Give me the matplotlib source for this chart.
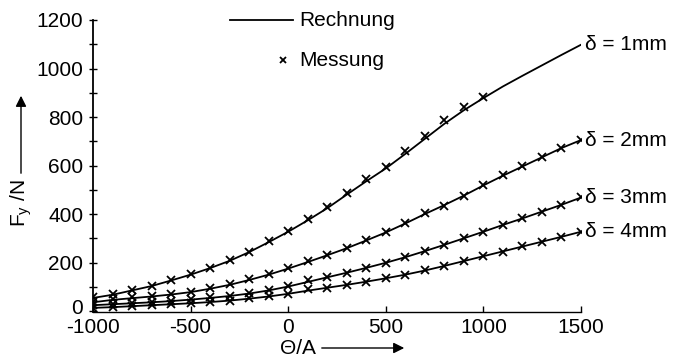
import numpy as np
import matplotlib
matplotlib.use("Agg")
import matplotlib.pyplot as plt
import matplotlib.transforms as mtransforms

plt.rcParams['font.family'] = ['Liberation Sans', 'DejaVu Sans']
plt.rcParams['mathtext.fontset'] = 'custom'
plt.rcParams['mathtext.rm'] = 'Liberation Sans'
plt.rcParams['mathtext.it'] = 'Liberation Sans'
plt.rcParams['axes.unicode_minus'] = False

# Durchflutung (A), Messpunkte alle 100 A
theta = [-1000, -900, -800, -700, -600, -500, -400, -300, -200, -100, 0,
         100, 200, 300, 400, 500, 600, 700, 800, 900, 1000,
         1100, 1200, 1300, 1400, 1500]

# Messung (N)
mess_1mm = [56, 69, 88, 105, 128, 152, 179, 210, 245, 287, 330,
            379, 428, 487, 544, 594, 660, 722, 788, 841, 882]
mess_2mm = [38, 50, 56, 62, 70, 78, 94, 110, 131, 152, 176,
            206, 231, 258, 293, 324, 361, 403, 435, 476, 520,
            561, 598, 634, 674, 705]
mess_3mm = [25, 29, 33, 37, 42, 48, 56, 62, 73, 86, 102,
            126, 141, 158, 179, 199, 221, 249, 273, 302, 327,
            355, 382, 410, 437, 469]
mess_4mm = [14, 17, 21, 25, 29, 33, 38, 43, 52, 60, 72,
            89, 97, 107, 121, 135, 148, 169, 187, 206, 227,
            245, 267, 286, 306, 327]

# Rechnung (N)
calc_1mm = [54, 67, 85, 103, 126, 150, 177, 207, 243, 284, 327,
            374, 424, 480, 535, 588, 648, 710, 772, 828, 878,
            926, 970, 1013, 1056, 1098]
calc_2mm = [36, 46, 53, 60, 68, 78, 92, 108, 128, 150, 175,
            202, 230, 259, 291, 324, 361, 400, 437, 476, 518,
            558, 596, 634, 672, 705]
calc_3mm = [24, 28, 32, 36, 41, 47, 54, 62, 72, 85, 101,
            120, 139, 158, 178, 199, 222, 247, 273, 300, 327,
            355, 382, 410, 438, 468]
calc_4mm = [13, 16, 20, 24, 28, 32, 37, 43, 51, 60, 71,
            84, 96, 108, 121, 135, 150, 167, 186, 206, 226,
            246, 266, 286, 306, 327]

labels = ['δ = 1mm', 'δ = 2mm', 'δ = 3mm', 'δ = 4mm']

fig = plt.figure(figsize=(6.74, 3.61), dpi=100)
ax = fig.add_axes([93 / 674, 1 - 312 / 361, 488 / 674, 292 / 361])

for calc, mess, lab in zip([calc_1mm, calc_2mm, calc_3mm, calc_4mm],
                           [mess_1mm, mess_2mm, mess_3mm, mess_4mm], labels):
    ax.plot(theta, calc, color='black', lw=1.3)
    ax.plot(theta[:len(mess)], mess, ls='none', marker='x', color='black',
            ms=5.5, mew=1.3)
    ax.annotate(lab, xy=(theta[-1], calc[-1]), xytext=(3, 0),
                textcoords='offset points', va='center', ha='left',
                fontsize=15, annotation_clip=False)

ax.set_xlim(-1000, 1500)
ax.set_ylim(-4, 1200)
ax.spines['top'].set_visible(False)
ax.spines['right'].set_visible(False)
ax.spines['left'].set_linewidth(1.3)
ax.spines['bottom'].set_linewidth(1.0)

ax.set_xticks([-1000, -500, 0, 500, 1000, 1500])
ax.set_yticks(range(0, 1201, 200))
ax.set_yticks(range(100, 1200, 200), minor=True)
ax.tick_params(axis='x', direction='in', length=4, width=1, pad=4,
               labelsize=15)
ax.tick_params(axis='y', which='both', direction='inout', length=6,
               width=1, pad=4, labelsize=15)

# "0" an der y-Achse etwas anheben, damit es nicht in "-1000" laeuft
fig.canvas.draw()
ylab0 = ax.get_yticklabels()[0]
ylab0.set_transform(ylab0.get_transform() +
                    mtransforms.ScaledTranslation(0, 3 / 72, fig.dpi_scale_trans))

# Legende
ax.plot([230, 293], [341, 341], color='black', lw=1.3,
        transform=None, clip_on=False)
fig.text(299 / 674, 1 - 20 / 361, 'Rechnung', fontsize=15, va='center')
ax.plot([283], [301], marker='x', color='black', ms=5, mew=1.3,
        transform=None, clip_on=False)
fig.text(299 / 674, 1 - 60 / 361, 'Messung', fontsize=15, va='center')

# Achsenbeschriftung mit Pfeilen
fig.text(21 / 674, 1 - 203 / 361, 'F$_\\mathregular{y}$ /N', rotation=90,
         fontsize=15, ha='center', va='center')
fig.patches.append(matplotlib.patches.FancyArrowPatch(
    (21, 361 - 176), (21, 361 - 93), transform=None, arrowstyle='-|>',
    mutation_scale=16, color='black', lw=1))
fig.text(298 / 674, 1 - 348 / 361, 'Θ/A', fontsize=15, ha='center',
         va='center')
fig.patches.append(matplotlib.patches.FancyArrowPatch(
    (319, 361 - 348), (407, 361 - 348), transform=None, arrowstyle='-|>',
    mutation_scale=16, color='black', lw=1))

fig.savefig('out.png', dpi=100)
